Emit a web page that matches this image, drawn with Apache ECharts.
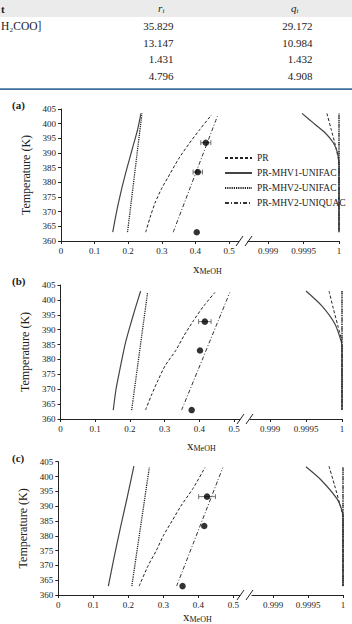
<!DOCTYPE html>
<html lang="en">
<head>
  <meta charset="UTF-8">
  <title>VLE MeOH</title>
  <style>
  html, body { margin: 0; padding: 0; background: #fff; }
  #main { width: 352px; height: 624px; }
  </style>
  <script src="https://cdn.jsdelivr.net/npm/echarts@6/dist/echarts.min.js"></script>
</head>
<body>
  <div id="main"></div>
  <script>
  // table at the top (cut off in the picture)
  var tableLabels = ['H\u2082COO]', '', '', ''];
  var rValues = ['35.829', '13.147', '1.431', '4.796'];
  var qValues = ['29.172', '10.984', '1.432', '4.908'];

  // ticks
  var leftTicks = [0, 0.1, 0.2, 0.3, 0.4, 0.5];
  var rightTicks = [0.999, 0.9995, 1];
  var seriesNames = ['PR', 'PR-MHV1-UNIFAC', 'PR-MHV2-UNIFAC', 'PR-MHV2-UNIQUAC'];

  // panel (a)  [x MeOH, T (K)]
  var aPR = [[0.252, 363], [0.265, 368], [0.28, 373], [0.30, 378], [0.325, 383], [0.35, 388], [0.38, 393], [0.413, 398], [0.448, 403]];
  var aMHV1 = [[0.154, 363], [0.162, 368], [0.171, 373], [0.181, 378], [0.192, 383], [0.204, 388], [0.216, 393], [0.228, 398], [0.238, 403.5]];
  var aMHV2 = [[0.198, 363], [0.241, 403.5]];
  var aUNIQ = [[0.334, 363], [0.467, 403]];
  var aPRr = [[0.99983, 403.5], [0.99989, 398], [0.99994, 393.5], [0.99999, 388], [1, 385], [1, 363]];
  var aMHV1r = [[0.99948, 403.5], [0.99965, 400], [0.9998, 397], [0.99992, 393.5], [0.99998, 390], [1, 386], [1, 363]];
  var aMHV2r = [[1, 403.5], [1, 363]];
  var aUNIQr = [[1, 403], [1, 363]];
  var aExp = [[0.404, 363, 0], [0.407, 383.5, 0.014], [0.431, 393.5, 0.015]];

  // panel (b)
  var bPR = [[0.245, 363], [0.262, 368], [0.281, 373], [0.302, 378], [0.332, 383], [0.356, 388], [0.383, 393], [0.413, 398], [0.445, 402.5]];
  var bMHV1 = [[0.152, 363], [0.16, 370], [0.17, 376], [0.186, 385], [0.2, 391], [0.215, 397], [0.231, 403]];
  var bMHV2 = [[0.205, 363], [0.251, 402.5]];
  var bUNIQ = [[0.349, 363], [0.488, 402.5]];
  var bPRr = [[0.99982, 403], [0.99988, 397], [0.99994, 391.5], [1, 385], [1, 363]];
  var bMHV1r = [[0.9995, 403], [0.99972, 398], [0.9999, 392], [0.99999, 386], [1, 384], [1, 363]];
  var bMHV2r = [[1, 403], [1, 363]];
  var bUNIQr = [[1, 403], [1, 363]];
  var bExp = [[0.378, 363, 0], [0.402, 383, 0], [0.416, 392.7, 0.018]];

  // panel (c)
  var cPR = [[0.231, 363], [0.257, 370], [0.28, 375], [0.30, 380], [0.325, 385], [0.35, 390], [0.385, 396], [0.419, 403]];
  var cMHV1 = [[0.143, 363], [0.16, 373], [0.178, 383], [0.197, 393], [0.216, 403.5]];
  var cMHV2 = [[0.21, 363], [0.26, 403]];
  var cUNIQ = [[0.338, 363], [0.47, 403]];
  var cPRr = [[0.9998, 403.5], [0.99988, 397], [0.99995, 391], [1, 386], [1, 363]];
  var cMHV1r = [[0.99947, 403.3], [0.99968, 399], [0.99991, 392.6], [0.99998, 389], [1, 386.4], [1, 363]];
  var cMHV2r = [[1, 403], [1, 363]];
  var cUNIQr = [[1, 403], [1, 363]];
  var cExp = [[0.355, 363, 0], [0.417, 383.3, 0], [0.425, 393.2, 0.024]];

  var serif = '"Liberation Serif", "Times New Roman", serif';

  var lineStyles = {
    'PR': { color: '#222', width: 1, type: [3, 2] },
    'PR-MHV1-UNIFAC': { color: '#444', width: 1.2, type: 'solid' },
    'PR-MHV2-UNIFAC': { color: '#222', width: 1.3, type: [1.2, 1] },
    'PR-MHV2-UNIQUAC': { color: '#333', width: 1, type: [4, 2, 1, 2] }
  };

  // layout of each panel (pixels)
  var panels = [
    { tag: '(a)', top: 109, height: 132, lx: 61, lw: 178, lpx: 336, rx: 248, rw: 91, rpx: 71000,
      left: [aPR, aMHV1, aMHV2, aUNIQ], right: [aPRr, aMHV1r, aMHV2r, aUNIQr], exp: aExp, nameX: 193, nameDy: 27 },
    { tag: '(b)', top: 285, height: 134, lx: 60.5, lw: 179.5, lpx: 347, rx: 250, rw: 92, rpx: 72000,
      left: [bPR, bMHV1, bMHV2, bUNIQ], right: [bPRr, bMHV1r, bMHV2r, bUNIQr], exp: bExp, nameX: 187, nameDy: 26 },
    { tag: '(c)', top: 461.7, height: 133.3, lx: 58.3, lw: 181.7, lpx: 350, rx: 252, rw: 91, rpx: 70000,
      left: [cPR, cMHV1, cMHV2, cUNIQ], right: [cPRr, cMHV1r, cMHV2r, cUNIQr], exp: cExp, nameX: 183, nameDy: 21 }
  ];

  var grid = [], xAxis = [], yAxis = [], series = [], graphic = [];

  function fmt(v) { return String(v); }

  function errorBars(params, api) {
    var x = api.value(0), y = api.value(1), e = api.value(2);
    if (!e) return;
    var p1 = api.coord([x - e, y]);
    var p2 = api.coord([x + e, y]);
    var st = { stroke: '#555', lineWidth: 0.8 };
    return {
      type: 'group',
      children: [
        { type: 'line', shape: { x1: p1[0], y1: p1[1], x2: p2[0], y2: p2[1] }, style: st },
        { type: 'line', shape: { x1: p1[0], y1: p1[1] - 2.5, x2: p1[0], y2: p1[1] + 2.5 }, style: st },
        { type: 'line', shape: { x1: p2[0], y1: p2[1] - 2.5, x2: p2[0], y2: p2[1] + 2.5 }, style: st }
      ]
    };
  }

  panels.forEach(function(p, i) {
    var gl = i * 2, gr = i * 2 + 1;
    var bottom = p.top + p.height;
    grid.push({ left: p.lx, top: p.top, width: p.lw, height: p.height });
    grid.push({ left: p.rx, top: p.top, width: p.rw, height: p.height });

    var axisLine = { lineStyle: { color: '#222', width: 1 } };
    var xLabel = { fontFamily: serif, fontSize: 9, color: '#222', margin: 5, formatter: fmt };
    xAxis.push({
      gridIndex: gl, type: 'value', min: 0, max: p.lw / p.lpx,
      axisLine: axisLine, splitLine: { show: false },
      axisTick: { length: 3, lineStyle: { color: '#222' }, customValues: leftTicks },
      axisLabel: Object.assign({ customValues: leftTicks }, xLabel)
    });
    // right axis: 1 at the grid's right edge, rpx pixels per unit
    xAxis.push({
      gridIndex: gr, type: 'value', min: 1 - p.rw / p.rpx, max: 1,
      axisLine: axisLine, splitLine: { show: false },
      axisTick: { length: 3, lineStyle: { color: '#222' }, customValues: rightTicks },
      axisLabel: Object.assign({ customValues: rightTicks }, xLabel)
    });

    yAxis.push({
      gridIndex: gl, type: 'value', min: 360, max: 405, interval: 5,
      name: 'Temperature (K)', nameLocation: 'middle', nameGap: 29,
      nameTextStyle: { fontFamily: serif, fontSize: 12, color: '#222' },
      axisLine: { show: true, lineStyle: { color: '#222', width: 1 } },
      axisTick: { show: true, length: 3, lineStyle: { color: '#222' } },
      splitLine: { show: false },
      axisLabel: { fontFamily: serif, fontSize: 9, color: '#222', margin: 5 }
    });
    yAxis.push({ gridIndex: gr, type: 'value', min: 360, max: 405, show: false, splitLine: { show: false } });

    seriesNames.forEach(function(name, k) {
      [[gl, p.left[k]], [gr, p.right[k]]].forEach(function(pair) {
        series.push({
          name: name, type: 'line', xAxisIndex: pair[0], yAxisIndex: pair[0],
          data: pair[1], symbol: 'none', smooth: 0.25, silent: true,
          lineStyle: lineStyles[name], color: lineStyles[name].color, z: 2
        });
      });
    });

    series.push({
      type: 'custom', xAxisIndex: gl, yAxisIndex: gl, data: p.exp,
      renderItem: errorBars, z: 3, silent: true
    });
    series.push({
      type: 'scatter', xAxisIndex: gl, yAxisIndex: gl, data: p.exp,
      symbolSize: 6.5, itemStyle: { color: '#000' }, z: 4, silent: true
    });

    // panel tag
    graphic.push({ type: 'text', x: 12, y: p.top - 4, style: { text: p.tag, font: 'bold 11px ' + serif, fill: '#222', verticalAlign: 'middle' } });
    // x axis title with subscript
    graphic.push({ type: 'text', x: p.nameX, y: bottom + p.nameDy, style: { text: 'x', font: '13px ' + serif, fill: '#222', verticalAlign: 'middle' } });
    graphic.push({ type: 'text', x: p.nameX + 6.5, y: bottom + p.nameDy + 3.2, style: { text: 'MeOH', font: '8px ' + serif, fill: '#222', verticalAlign: 'middle' } });
    // axis break marks
    var bx = p.lx + p.lw - 3;
    [0, 9].forEach(function(d) {
      graphic.push({ type: 'line', shape: { x1: bx + d, y1: bottom + 5, x2: bx + d + 7, y2: bottom - 5 }, style: { stroke: '#222', lineWidth: 1 } });
    });
  });

  // table
  graphic.push({ type: 'rect', shape: { x: 0, y: 0, width: 352, height: 17 }, style: { fill: '#ebebeb' } });
  graphic.push({ type: 'text', x: 1, y: 8.5, style: { text: 't', font: 'bold 11px ' + serif, fill: '#222', verticalAlign: 'middle' } });
  graphic.push({ type: 'text', x: 158, y: 8, style: { text: 'r', font: 'italic 11px ' + serif, fill: '#222', verticalAlign: 'middle' } });
  graphic.push({ type: 'text', x: 162.5, y: 11, style: { text: 'i', font: 'italic 7px ' + serif, fill: '#222', verticalAlign: 'middle' } });
  graphic.push({ type: 'text', x: 291, y: 8, style: { text: 'q', font: 'italic 11px ' + serif, fill: '#222', verticalAlign: 'middle' } });
  graphic.push({ type: 'text', x: 296.5, y: 11, style: { text: 'i', font: 'italic 7px ' + serif, fill: '#222', verticalAlign: 'middle' } });
  var rowY = [26, 42.5, 59, 75.5];
  rowY.forEach(function(y, j) {
    graphic.push({ type: 'text', x: 1, y: y, style: { text: tableLabels[j], font: '11.5px ' + serif, fill: '#222', align: 'left', verticalAlign: 'middle' } });
    graphic.push({ type: 'text', x: 173.5, y: y, style: { text: rValues[j], font: '11px ' + serif, fill: '#222', align: 'right', verticalAlign: 'middle' } });
    graphic.push({ type: 'text', x: 312.5, y: y, style: { text: qValues[j], font: '11px ' + serif, fill: '#222', align: 'right', verticalAlign: 'middle' } });
  });
  graphic.push({ type: 'rect', shape: { x: 0, y: 88.3, width: 352, height: 1.8 }, style: { fill: '#3d6e9e' } });

  var chart = echarts.init(document.getElementById('main'), null, { renderer: 'svg' });
  chart.setOption({
    animation: false,
    backgroundColor: '#fff',
    grid: grid,
    xAxis: xAxis,
    yAxis: yAxis,
    legend: {
      data: seriesNames,
      orient: 'vertical', left: 219, top: 148,
      itemWidth: 27, itemHeight: 10, itemGap: 5,
      itemStyle: { color: 'rgba(0,0,0,0)', borderWidth: 0, opacity: 0 },
      textStyle: { fontFamily: serif, fontSize: 9.5, color: '#222' },
      selectedMode: false
    },
    series: series,
    graphic: graphic
  });
  </script>
</body>
</html>
